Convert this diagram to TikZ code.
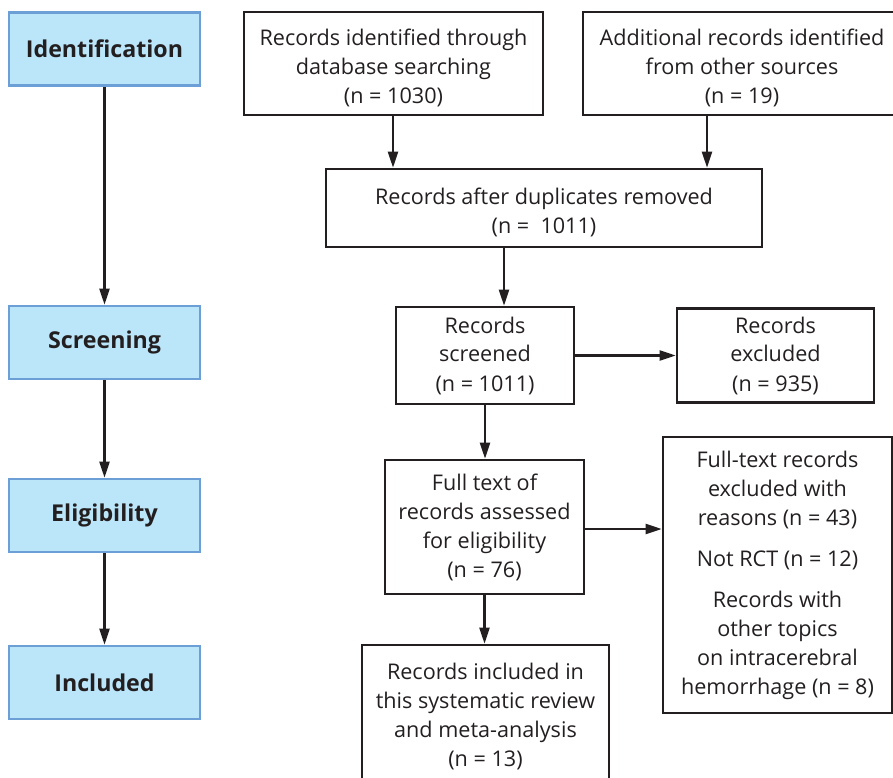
\documentclass[tikz,border=0pt]{standalone}
\usepackage{fontspec}
\setmainfont{Open Sans}
\usetikzlibrary{arrows.meta}
\definecolor{txt}{HTML}{231F20}
\definecolor{phasefill}{HTML}{BBE5F9}
\definecolor{phaseline}{HTML}{6B9FD5}
\newcommand{\lowerby}[1]{\rule{0pt}{#1}}
\tikzset{
  phase/.style={draw=phaseline, fill=phasefill, line width=2.6pt, text=txt,
    minimum width=191pt, minimum height=73pt, inner sep=0pt,
    font=\fontsize{23.2}{28}\selectfont\bfseries},
  rec/.style={draw=txt, line width=2.6pt, text=txt, align=center, inner sep=0pt,
    font=\fontsize{21.6}{29}\selectfont},
  arr/.style={draw=txt, line width=2.2pt, -{Triangle[length=16pt,width=10pt]}}
}
\begin{document}
\begin{tikzpicture}[x=1pt,y=-1pt]
\useasboundingbox (0,0) rectangle (893,778);
% phase boxes
\node[phase] (id)  at (104.5,49)    {Identification};
\node[phase] (scr) at (104.5,342.5) {Screening};
\node[phase] (eli) at (104.5,515.5) {Eligibility};
\node[phase] (inc) at (104.5,682.5) {Included};
\draw[arr] (id) -- (scr);
\draw[arr] (scr) -- (eli);
\draw[arr] (eli) -- (inc);
% record boxes
\node[rec, minimum width=299pt, minimum height=103pt] (b1) at (393.5,63.5)
  {\lowerby{25pt}Records identified through\\database searching\\(n = 1030)};
\node[rec, minimum width=318pt, minimum height=103pt] (b2) at (742,63.5)
  {\lowerby{25pt}Additional records identified\\from other sources\\(n = 19)};
\node[rec, minimum width=436pt, minimum height=78pt] (b3) at (544,208)
  {\lowerby{26pt}Records after duplicates removed\\(n =\ \ 1011)};
\node[rec, minimum width=178pt, minimum height=97pt] (scrd) at (485,355.5)
  {Records\\screened\\(n = 1011)};
\node[rec, minimum width=197pt, minimum height=94pt] (exc) at (775.5,355.5)
  {Records\\excluded\\(n = 935)};
\node[rec, minimum width=199pt, minimum height=134pt] (ft) at (484.5,527)
  {Full text of\\records assessed\\for eligibility\\(n = 76)};
\node[rec, minimum width=229pt, minimum height=276pt] (fte) at (777.5,575)
  {Full-text records\\excluded with\\reasons (n = 43)\\[12pt]Not RCT (n = 12)\\[12pt]Records with\\other topics\\on intracerebral\\hemorrhage (n = 8)};
\node[rec, minimum width=247pt, minimum height=142pt] (incl) at (485.5,716)
  {Records included in\\this systematic review\\and meta-analysis\\(n = 13)};
% connectors
\draw[arr] ([xshift=-0.5pt]b1.south) -- ([xshift=-0.5pt]b1.south |- b3.north);
\draw[arr] ([xshift=-35pt]b2.south) -- ([xshift=-35pt]b2.south |- b3.north);
\draw[arr] ([xshift=19pt]scrd.north |- b3.south) -- ([xshift=19pt]scrd.north);
\draw[arr] (scrd.east) -- (exc.west);
\draw[arr] (scrd.south) -- (scrd.south |- ft.north);
\draw[arr] ([yshift=-2pt]ft.east) -- ([yshift=-2pt]ft.east -| fte.west);
\draw[arr] (ft.south) -- (ft.south |- incl.north);
\end{tikzpicture}
\end{document}
